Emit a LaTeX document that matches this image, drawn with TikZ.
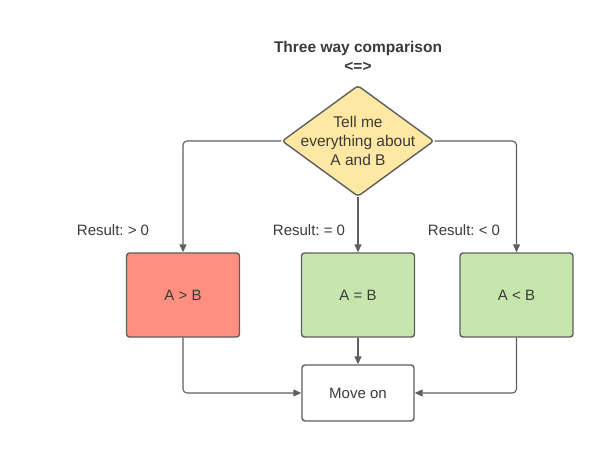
\documentclass[tikz,border=0pt]{standalone}
\usepackage{fontspec}
\setmainfont{Liberation Sans}
\usetikzlibrary{positioning, shapes.geometric, arrows.meta}
\definecolor{linegray}{HTML}{5E5E5E}
\definecolor{textgray}{HTML}{3A3A3A}
\definecolor{askyellow}{HTML}{FFE8A3}
\definecolor{gtred}{HTML}{FF8F80}
\definecolor{okgreen}{HTML}{C7E6AD}
\frenchspacing

\begin{document}
\begin{tikzpicture}[x=1pt, y=-1pt, font=\fontsize{15}{19}\selectfont, text=textgray,
  box/.style={draw=linegray, line width=1.4pt, rounded corners=3pt, minimum width=113pt, minimum height=84pt, inner sep=0pt},
  decision/.style={diamond, draw=linegray, fill=askyellow, line width=1.4pt, rounded corners=3pt, minimum width=152pt, minimum height=111pt, inner sep=0pt},
  flow/.style={draw=linegray, line width=1.1pt, rounded corners=4pt, -{Triangle[length=8pt, width=7pt]}}]
  \useasboundingbox (0,0) rectangle (604,450);

  % heading
  \node[font=\fontsize{15.5}{19}\selectfont\bfseries, align=center] (title) at (358,56.5) {Three way comparison\\<=>};

  % question
  \node[decision] (ask) at (358,141) {};
  \node[align=center, font=\fontsize{15.5}{19}\selectfont] (askText) at (ask) {Tell me\\everything about\\A and B};

  % outcomes
  \node[box, fill=gtred] (gt) at (183,295) {A > B};
  \node[box, fill=okgreen] (eq) at (358,295) {A = B};
  \node[box, fill=okgreen] (lt) at (516.5,295) {A < B};
  \node[box, fill=white, minimum width=112pt, minimum height=56pt] (move) at (358,393) {Move on};

  \node (gtLabel) at (113,230) {Result: > 0};
  \node (eqLabel) at (309,230) {Result: = 0};
  \node (ltLabel) at (464,230) {Result: < 0};

  \draw[flow] (ask.west) -| (gt.north);
  \draw[flow] (ask.south) -- (eq.north);
  \draw[flow] (ask.east) -| (lt.north);
  \draw[flow] (gt.south) |- (move.west);
  \draw[flow] (eq.south) -- (move.north);
  \draw[flow] (lt.south) |- (move.east);
\end{tikzpicture}
\end{document}
